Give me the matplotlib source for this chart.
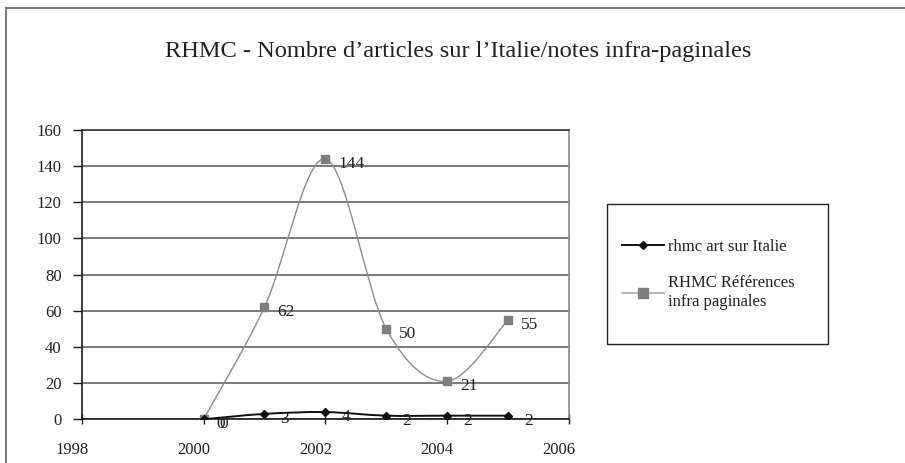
import numpy as np
import matplotlib
matplotlib.use("Agg")
import matplotlib.pyplot as plt
from matplotlib.path import Path
from matplotlib.patches import PathPatch, Rectangle
from matplotlib.lines import Line2D
from matplotlib.transforms import ScaledTranslation

# data
years = [2000, 2001, 2002, 2003, 2004, 2005]
art_italie = [0, 3, 4, 2, 2, 2]
refs_infra = [0, 62, 144, 50, 21, 55]

title = "RHMC - Nombre d\u2019articles sur l\u2019Italie/notes infra-paginales"
name_art = "rhmc art sur Italie"
name_refs = "RHMC R\u00e9f\u00e9rences\ninfra paginales"

plt.rcParams['font.family'] = ['Liberation Serif', 'DejaVu Serif']
txtcol = '#222222'


def smooth_path(xs, ys):
    # excel-like smoothed line (bezier through the points)
    pts = np.column_stack([xs, ys]).astype(float)
    n = len(pts)
    verts = [pts[0]]
    codes = [Path.MOVETO]
    for i in range(n - 1):
        p0 = pts[max(i - 1, 0)]
        p1 = pts[i]
        p2 = pts[i + 1]
        p3 = pts[min(i + 2, n - 1)]
        verts += [p1 + (p2 - p0) / 6, p2 - (p3 - p1) / 6, p2]
        codes += [Path.CURVE4] * 3
    return Path(verts, codes)


fig = plt.figure(figsize=(9.05, 4.63), dpi=100)
W, H = 905, 463

# outer chart frame (only top/left visible)
fig.add_artist(Line2D([5.7 / W, 5.7 / W], [0, 1 - 8.3 / H], transform=fig.transFigure,
                      color='#7a7a7a', lw=1.5))
fig.add_artist(Line2D([5.7 / W, 1], [1 - 8.3 / H, 1 - 8.3 / H], transform=fig.transFigure,
                      color='#7a7a7a', lw=1.5))

ax = fig.add_axes([81.7 / W, 1 - 419.3 / H, (569 - 81.7) / W, (419.3 - 130) / H])
ax.set_xlim(1998, 2006)
ax.set_ylim(0, 160)
ax.set_xticks(range(1998, 2007, 2))
ax.set_yticks(range(0, 161, 20))
ax.yaxis.grid(True, color='#6e6e6e', lw=1.3)
ax.set_axisbelow(True)
for s in ['left', 'bottom']:
    ax.spines[s].set_color('#1a1a1a')
    ax.spines[s].set_linewidth(1.2)
ax.spines['top'].set_color('#333333')
ax.spines['top'].set_linewidth(1.2)
ax.spines['right'].set_color('#8a8a8a')
ax.spines['right'].set_linewidth(1.2)
ax.tick_params(axis='y', direction='out', length=6.5, width=1, color='#1a1a1a',
               labelsize=12, labelcolor=txtcol, pad=8)
ax.tick_params(axis='x', direction='inout', length=7, width=1, color='#1a1a1a',
               labelsize=12, labelcolor=txtcol, pad=13)
for lab in ax.get_xticklabels():
    lab.set_transform(lab.get_transform() + ScaledTranslation(-0.1, 0, fig.dpi_scale_trans))

gray = '#8c8c8c'
ax.add_patch(PathPatch(smooth_path(years, refs_infra), facecolor='none', edgecolor=gray, lw=1.0, zorder=3))
ax.plot(years, refs_infra, ls='none', marker='s', ms=5.8, color='#7f7f7f', zorder=4)
ax.add_patch(PathPatch(smooth_path(years, art_italie), facecolor='none', edgecolor='#111111', lw=1.4, zorder=5))
ax.plot(years, art_italie, ls='none', marker='D', ms=4.5, color='#111111', zorder=6)

for x, y in zip(years, refs_infra):
    ax.annotate(str(y), (x, y), xytext=(13, -5), textcoords='offset pixels',
                ha='left', va='center', fontsize=12.5, color=txtcol, zorder=7)
for x, y in zip(years, art_italie):
    ax.annotate(str(y), (x, y), xytext=(16, -5), textcoords='offset pixels',
                ha='left', va='center', fontsize=12.5, color=txtcol, zorder=7)

fig.text(458 / W, 1 - 51.7 / H, title, ha='center', va='center', fontsize=17.6, color=txtcol)

# legend box
fig.add_artist(Rectangle((606.7 / W, 1 - 344 / H), 221.6 / W, 139.7 / H, transform=fig.transFigure,
                         facecolor='white', edgecolor='#222222', lw=1.0))
h1 = Line2D([], [], color='#111111', lw=1.4, marker='D', ms=4.5)
h2 = Line2D([], [], color='#aaaaaa', lw=1.2, marker='s', ms=6.5, markerfacecolor='#7f7f7f',
            markeredgecolor='#7f7f7f')
leg = fig.legend([h1, h2], [name_art, name_refs], loc='upper left',
                 bbox_to_anchor=(614 / W, 1 - 231 / H), frameon=False, borderpad=0,
                 fontsize=12, handlelength=2.5, handletextpad=0.25, labelspacing=1.2,
                 labelcolor=txtcol)

fig.savefig('out.png', dpi=100)
